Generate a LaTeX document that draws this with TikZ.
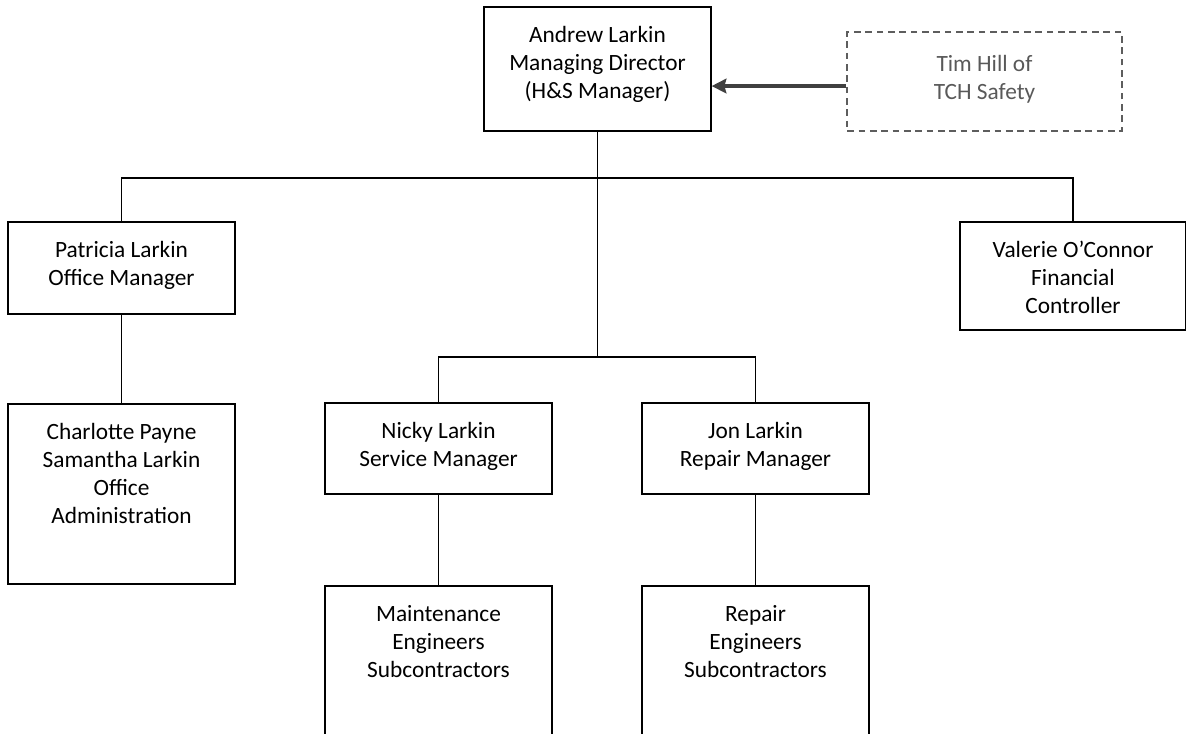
\documentclass[tikz,border=0pt]{standalone}
\usepackage{fontspec}
\setmainfont{Carlito}
\usetikzlibrary{arrows.meta}

\definecolor{tipgray}{HTML}{404040}
\definecolor{advgray}{HTML}{595959}

\tikzset{
  unit/.style 2 args={draw, line width=1.3pt, inner sep=0pt,
    execute at begin node={\begin{minipage}[c][#2][t]{#1}\centering\vspace*{14.5pt}},
    execute at end node={\end{minipage}}},
  adviser/.style={draw=tipgray!85, text=advgray, dashed, dash pattern=on 5pt off 3.5pt},
  wire/.style={line width=1pt},
  feed/.style={draw=tipgray, line width=2.3pt, -{Stealth[length=11pt,width=11pt,inset=1.5pt]}}
}

\begin{document}
\begin{tikzpicture}[x=0.75pt, y=-0.75pt, font=\fontsize{17.5}{21}\selectfont]
    \useasboundingbox (0,0) rectangle (1186,734);
    \clip (0,0) rectangle (1186,734);

    % top
    \node [unit={170pt}{93pt}] (md) at (597.5,69) {Andrew Larkin\\Managing Director\\(H\&S Manager)};
    \node [unit={206pt}{74pt}, adviser] (tim) at (984.5,81.5) {\vspace*{2.5pt}Tim Hill of\\TCH Safety};

    % second level
    \node [unit={170pt}{69pt}] (patricia) at (121.5,268) {Patricia Larkin\\Office Manager};
    \node [unit={170pt}{81pt}] (valerie) at (1073,276) {Valerie O'Connor\\Financial\\Controller};
    \node [unit={170pt}{68pt}] (nicky) at (438.5,448.5) {Nicky Larkin\\Service Manager};
    \node [unit={170pt}{68pt}] (jon) at (755.5,448.5) {Jon Larkin\\Repair Manager};

    % third level
    \node [unit={170pt}{135pt}] (charlotte) at (121.5,494) {Charlotte Payne\\Samantha Larkin\\Office\\Administration};
    \node [unit={170pt}{135pt}] (maint) at (438.5,676) {Maintenance\\Engineers\\Subcontractors};
    \node [unit={170pt}{135pt}] (repair) at (755.5,676) {Repair\\Engineers\\Subcontractors};

    \coordinate (busA) at (597.5,178);
    \coordinate (busB) at (597.5,357);

    \draw [wire] (md.south) -- (busB);
    \draw [wire] (patricia.north) |- (busA) -| (valerie.north);
    \draw [wire] (nicky.north) |- (busB) -| (jon.north);
    \draw [wire] (patricia) -- (charlotte);
    \draw [wire] (nicky) -- (maint);
    \draw [wire] (jon) -- (repair);

    \draw [feed] ([yshift=-3.4pt]tim.west) -- ([yshift=-3.4pt]tim.west -| md.east);
\end{tikzpicture}
\end{document}
